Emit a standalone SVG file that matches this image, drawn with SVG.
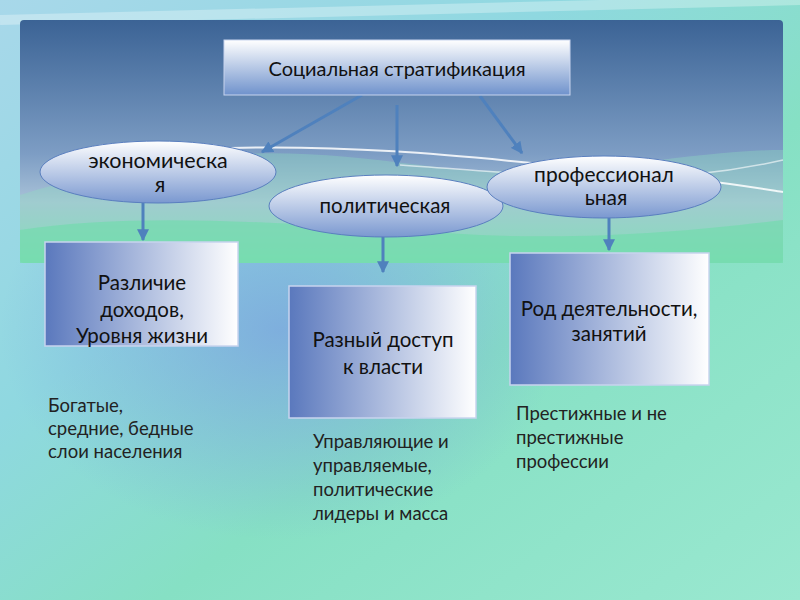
<svg xmlns="http://www.w3.org/2000/svg" width="800" height="600" viewBox="0 0 800 600">
<defs>
<linearGradient id="bg" x1="0" y1="0" x2="1" y2="1">
<stop offset="0" stop-color="#a8d8ea"/>
<stop offset="0.35" stop-color="#8fd8e0"/>
<stop offset="0.6" stop-color="#86e0c4"/>
<stop offset="1" stop-color="#9ae8d0"/>
</linearGradient>
<radialGradient id="bgblue" cx="0.35" cy="0.55" r="0.35">
<stop offset="0" stop-color="#7aa0e0" stop-opacity="0.75"/>
<stop offset="1" stop-color="#7aa0e0" stop-opacity="0"/>
</radialGradient>
<linearGradient id="panel" x1="0" y1="0" x2="0" y2="1">
<stop offset="0" stop-color="#3b6395"/>
<stop offset="0.55" stop-color="#7d9dc4"/>
<stop offset="0.75" stop-color="#a9c2d8"/>
<stop offset="1" stop-color="#7fdcb4"/>
</linearGradient>
<linearGradient id="title" x1="0" y1="0" x2="0" y2="1">
<stop offset="0" stop-color="#ffffff"/>
<stop offset="1" stop-color="#6f92cc"/>
</linearGradient>
<linearGradient id="ell" x1="0" y1="0" x2="0" y2="1">
<stop offset="0" stop-color="#ffffff"/>
<stop offset="1" stop-color="#7a98d0"/>
</linearGradient>
<linearGradient id="box" x1="0" y1="0" x2="1" y2="0">
<stop offset="0" stop-color="#5a78bd"/>
<stop offset="1" stop-color="#ffffff"/>
</linearGradient>
<marker id="ah" viewBox="0 0 10 10" refX="9" refY="5" markerWidth="4" markerHeight="4" orient="auto">
<path d="M0,0 L10,5 L0,10 z" fill="#4f81bd"/>
</marker>
<style>
.t{font-family:Lato,"Open Sans","Liberation Sans",sans-serif;fill:#111}
.box{fill:url(#box);stroke:#c8d4ee;stroke-width:1.5}
.ell{fill:url(#ell);stroke:#5a7fbf;stroke-width:1}
.c{stroke:#4f81bd;stroke-width:3;fill:none;marker-end:url(#ah)}
.lbl{font-family:Lato,"Open Sans","Liberation Sans",sans-serif;fill:#222;font-size:18.5px}
</style>
</defs>
<rect width="800" height="600" fill="url(#bg)"/>
<rect width="800" height="600" fill="url(#bgblue)"/>
<path d="M0,20 L800,0" stroke="#ffffff" stroke-opacity="0.3" stroke-width="10"/>
<rect x="20" y="20" width="763" height="243" rx="4" fill="url(#panel)"/>
<path d="M20,195 C200,140 300,150 420,165 C560,185 680,150 783,150 L783,263 L20,263 z" fill="#8ee0c0" fill-opacity="0.35"/>
<path d="M180,150 C350,140 500,160 700,180 C740,185 770,190 783,192" stroke="#ffffff" stroke-width="2" fill="none" stroke-opacity="0.85"/>
<path d="M400,165 C550,175 650,190 783,160" stroke="#ffffff" stroke-width="1.5" fill="none" stroke-opacity="0.6"/>
<path d="M20,230 C150,210 300,225 480,235 C600,240 700,230 783,220 L783,263 L20,263 z" fill="#6edcaa" fill-opacity="0.6"/>

<g id="connectors">
<line class="c" x1="362" y1="95" x2="262" y2="152"/>
<line class="c" x1="397" y1="105" x2="397" y2="166"/>
<line class="c" x1="480" y1="96" x2="522" y2="153"/>
<line class="c" x1="143" y1="203" x2="143" y2="240"/>
<line class="c" x1="383" y1="237" x2="383" y2="272"/>
<line class="c" x1="609" y1="218" x2="609" y2="250"/>
</g>

<g id="title-node">
<rect x="224" y="40" width="346" height="55" fill="url(#title)" stroke="#c8d4ee"/>
<text class="t" x="397" y="76" font-size="20" text-anchor="middle">Социальная стратификация</text>
</g>
<g id="econ">
<ellipse class="ell" cx="158" cy="172" rx="118" ry="31"/>
<text class="t" x="158" y="168" font-size="21.5" text-anchor="middle">экономическа</text>
<text class="t" x="160" y="192" font-size="21.5" text-anchor="middle">я</text>
</g>
<g id="polit">
<ellipse class="ell" cx="386" cy="206" rx="117" ry="31"/>
<text class="t" x="385" y="213" font-size="20.5" text-anchor="middle">политическая</text>
</g>
<g id="prof">
<ellipse class="ell" cx="604" cy="187" rx="117" ry="31"/>
<text class="t" x="604" y="182" font-size="21" text-anchor="middle">профессионал</text>
<text class="t" x="606" y="205" font-size="21" text-anchor="middle">ьная</text>
</g>
<g id="box-econ">
<rect class="box" x="45" y="242" width="193" height="104"/>
<text class="t" x="142" y="290" font-size="20.5" text-anchor="middle">Различие</text>
<text class="t" x="142" y="317" font-size="20.5" text-anchor="middle">доходов,</text>
<text class="t" x="142" y="343" font-size="20.5" text-anchor="middle">Уровня жизни</text>
</g>
<g id="box-polit">
<rect class="box" x="289" y="286" width="187" height="132"/>
<text class="t" x="383" y="347" font-size="20.5" text-anchor="middle">Разный доступ</text>
<text class="t" x="383" y="374" font-size="20.5" text-anchor="middle">к власти</text>
</g>
<g id="box-prof">
<rect class="box" x="510" y="253" width="199" height="132"/>
<text class="t" x="609" y="316" font-size="20.5" text-anchor="middle">Род деятельности,</text>
<text class="t" x="609" y="341" font-size="20.5" text-anchor="middle">занятий</text>
</g>
<g id="note-econ">
<text class="lbl" x="48" y="412">Богатые,</text>
<text class="lbl" x="48" y="435">средние, бедные</text>
<text class="lbl" x="48" y="458">слои населения</text>
</g>
<g id="note-polit">
<text class="lbl" x="313" y="448">Управляющие и</text>
<text class="lbl" x="313" y="472">управляемые,</text>
<text class="lbl" x="313" y="496">политические</text>
<text class="lbl" x="313" y="520">лидеры и масса</text>
</g>
<g id="note-prof">
<text class="lbl" x="516" y="420">Престижные и не</text>
<text class="lbl" x="516" y="444">престижные</text>
<text class="lbl" x="516" y="468">профессии</text>
</g>
</svg>
